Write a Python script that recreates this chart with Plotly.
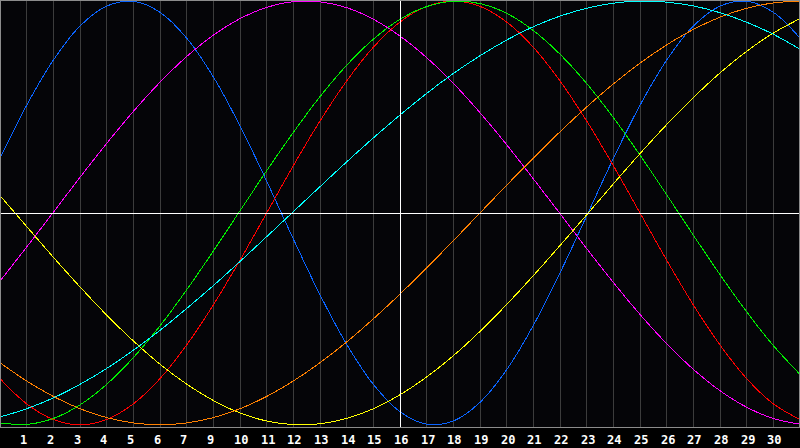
import plotly.graph_objects as go

days = list(range(31))

tick_vals = list(range(1, 30))
tick_text = ["1", "2", "3", "4", "5", "6", "7", "9", "10", "11", "12", "13", "14", "15",
             "16", "17", "18", "19", "20", "21", "22", "23", "24", "25", "26", "27", "28",
             "29", "30"]

physical = [0.257, 0.508, 0.721, 0.882, 0.976, 0.999, 0.947, 0.825, 0.642, 0.411, 0.150,
            -0.123, -0.386, -0.620, -0.809, -0.938, -0.997, -0.982, -0.894, -0.740, -0.531,
            -0.283, -0.014, 0.257, 0.508, 0.721, 0.882, 0.976, 0.999, 0.947, 0.825]
emotional = [-0.782, -0.901, -0.975, -1.000, -0.975, -0.901, -0.782, -0.623, -0.434, -0.223,
             0.000, 0.223, 0.434, 0.623, 0.782, 0.901, 0.975, 1.000, 0.975, 0.901, 0.782,
             0.623, 0.434, 0.223, 0.000, -0.223, -0.434, -0.623, -0.782, -0.901, -0.975]
intellectual = [-0.991, -0.998, -0.970, -0.906, -0.809, -0.683, -0.533, -0.363, -0.180, 0.010,
                0.199, 0.380, 0.549, 0.697, 0.820, 0.914, 0.974, 0.999, 0.988, 0.942, 0.861,
                0.749, 0.611, 0.450, 0.273, 0.086, -0.105, -0.291, -0.467, -0.626, -0.762]
intuitive = [-0.322, -0.161, 0.003, 0.168, 0.328, 0.479, 0.617, 0.738, 0.839, 0.917, 0.970,
             0.997, 0.996, 0.969, 0.914, 0.835, 0.733, 0.612, 0.473, 0.322, 0.161, -0.003,
             -0.168, -0.328, -0.479, -0.617, -0.738, -0.839, -0.917, -0.970, -0.997]
aesthetic = [0.082, -0.064, -0.209, -0.349, -0.482, -0.604, -0.714, -0.808, -0.885, -0.944,
             -0.982, -0.999, -0.995, -0.970, -0.924, -0.858, -0.774, -0.674, -0.559, -0.432,
             -0.296, -0.154, -0.009, 0.137, 0.280, 0.417, 0.544, 0.661, 0.763, 0.849, 0.917]
awareness = [-0.707, -0.793, -0.866, -0.924, -0.966, -0.991, -1.000, -0.991, -0.966, -0.924,
             -0.866, -0.793, -0.707, -0.609, -0.500, -0.383, -0.259, -0.131, 0.000, 0.131,
             0.259, 0.383, 0.500, 0.609, 0.707, 0.793, 0.866, 0.924, 0.966, 0.991, 1.000]
spiritual = [-0.963, -0.924, -0.873, -0.809, -0.734, -0.648, -0.554, -0.451, -0.343, -0.229,
             -0.112, 0.006, 0.124, 0.241, 0.354, 0.462, 0.564, 0.658, 0.742, 0.816, 0.879,
             0.929, 0.966, 0.990, 1.000, 0.995, 0.977, 0.945, 0.900, 0.843, 0.773]

today = 15

series = [
    (physical, "#0a64ff"),
    (emotional, "#ff0000"),
    (intellectual, "#00f000"),
    (intuitive, "#ff00ff"),
    (aesthetic, "#ffff00"),
    (awareness, "#ff8000"),
    (spiritual, "#00ffff"),
]

fig = go.Figure()
for vals, col in series:
    fig.add_trace(go.Scatter(x=days, y=vals, mode="lines",
                             line=dict(color=col, width=1, shape="spline"),
                             hoverinfo="skip", showlegend=False))

# centre cross (today / zero line), drawn over the curves
fig.add_shape(type="line", xref="x", yref="paper", x0=today, x1=today, y0=0, y1=1,
              line=dict(color="#ffffff", width=1), layer="above")
fig.add_shape(type="line", xref="paper", yref="y", x0=0, x1=1, y0=-0.0026, y1=-0.0026,
              line=dict(color="#ffffff", width=1), layer="above")
# frame
fig.add_shape(type="rect", xref="paper", yref="paper", x0=0.0006, x1=0.9994, y0=0.0012, y1=0.9988,
              line=dict(color="#8c8c8c", width=1), layer="above")

for tv, tt in zip(tick_vals, tick_text):
    fig.add_annotation(x=tv, y=0, xref="x", yref="paper", text=tt, showarrow=False,
                       yanchor="top", yshift=-3, xshift=(-3 if len(tt) == 1 else 1),
                       font=dict(family="DejaVu Sans Mono", size=12, color="#ffffff",
                                 weight="bold"))

fig.update_layout(
    width=800, height=448,
    margin=dict(l=0, r=0, t=0, b=20),
    paper_bgcolor="#000000",
    plot_bgcolor="#050508",
    hovermode=False,
    xaxis=dict(range=[0, 30], tickvals=tick_vals, showticklabels=False, ticks="",
               showgrid=True, gridcolor="#3c3c3c", gridwidth=1, zeroline=False,
               showline=False, fixedrange=True),
    yaxis=dict(range=[-1.015, 1.005], showgrid=False, showticklabels=False, ticks="",
               zeroline=False, showline=False, fixedrange=True),
)

post = """
document.body.style.margin = '0';
document.body.style.overflow = 'hidden';
document.querySelectorAll('.scatterlayer path, .shapelayer path').forEach(function(p){
  p.style.shapeRendering = 'crispEdges';
});
"""

fig.write_html("out.html", post_script=post, config={"displayModeBar": False, "staticPlot": True})
